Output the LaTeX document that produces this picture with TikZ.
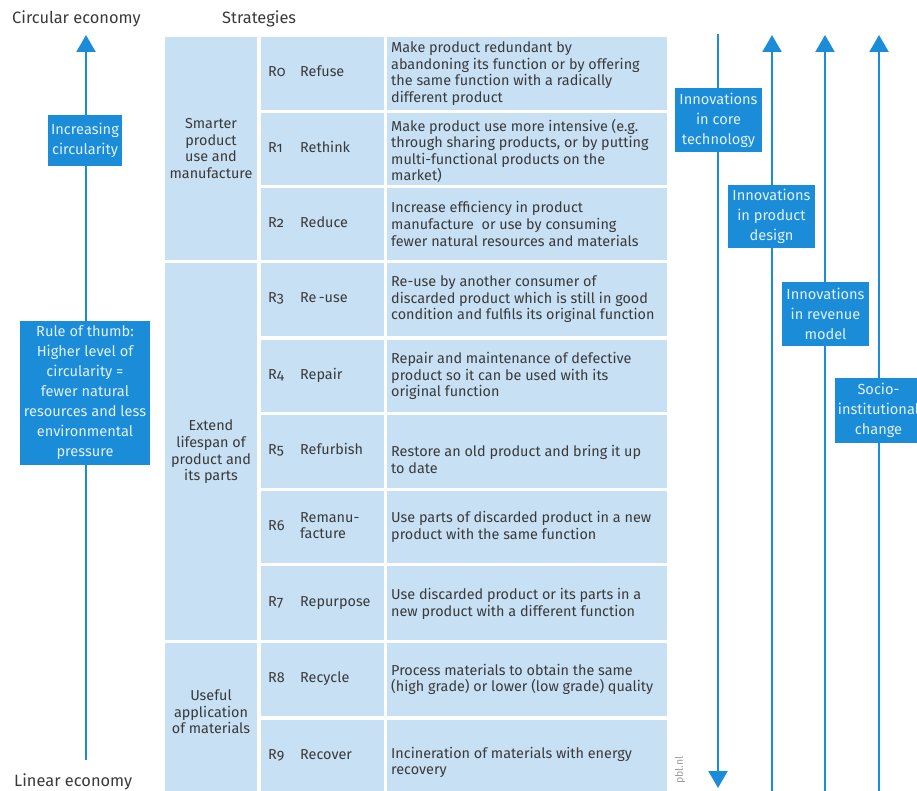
\documentclass[tikz,border=0pt]{standalone}
\usepackage{fontspec}
\setmainfont{Fira Sans}
\newfontfamily\codefont{Fira Sans}[Numbers=OldStyle]
\usetikzlibrary{arrows.meta}
\definecolor{cellblue}{HTML}{C7E0F4}
\definecolor{accent}{HTML}{1A8CD8}
\definecolor{boxtext}{HTML}{E2F1FC}
\definecolor{ink}{HTML}{3A3A3A}
\definecolor{credit}{HTML}{9A9A9A}

\begin{document}
\begin{tikzpicture}[x=1pt,y=-1pt,
  cell/.style={fill=cellblue, draw=none, anchor=north west, inner sep=0pt},
  body/.style={font=\fontsize{14.4}{16.6}\selectfont, text=ink, inner sep=0pt},
  head/.style={font=\fontsize{16.4}{18}\selectfont, text=ink, inner sep=0pt, anchor=base west},
  tag/.style={fill=accent, text=boxtext, align=center, inner sep=0pt,
              font=\fontsize{14.6}{20}\selectfont},
  flow/.style={draw=accent, line width=2.2pt},
  tip/.style={-{Triangle[width=19pt,length=17pt]}}
]
\useasboundingbox (0,0) rectangle (917,791);

% headings
\node[head] (hcirc) at (12,24) {Circular economy};
\node[head] (hstrat) at (222,24) {Strategies};
\node[head] (hlin) at (14,786) {Linear economy};

% group column
\node[cell, minimum width=92pt, minimum height=223pt] (g1) at (165,37) {};
\node[cell, minimum width=92pt, minimum height=377pt] (g2) at (165,263) {};
\node[cell, minimum width=92pt, minimum height=150pt] (g3) at (165,643) {};
\node[body, align=center] (g1t) at (211,148.5) {Smarter\\product\\use and\\manufacture};
\node[body, align=center] (g2t) at (211,452) {Extend\\lifespan of\\product and\\its parts};
\node[body, align=center] (g3t) at (211,712) {Useful\\application\\of materials};

% strategy rows: index / top / bottom / code / name / description / text shift
\foreach \i/\t/\b/\c/\n/\d/\s in {
  0/37/110/R0/Refuse/{Make product redundant by\\abandoning its function or by offering\\the same function with a radically\\different product}/0,
  1/113/185/R1/Rethink/{Make product use more intensive (e.g.\\through sharing products, or by putting\\multi-functional products on the\\market)}/2,
  2/188/260/R2/Reduce/{Increase efficiency in product\\manufacture\ \ or use by consuming\\fewer natural resources and materials}/0,
  3/263/336/R3/Re\,-use/{Re-use by another consumer of\\discarded product which is still in good\\condition and fulfils its original function}/0,
  4/340/412/R4/Repair/{Repair and maintenance of defective\\product so it can be used with its\\original function}/0,
  5/415/488/R5/Refurbish/{Restore an old product and bring it up\\to date}/8,
  6/491/563/R6/{\strut Remanu-\\\strut facture}/{Use parts of discarded product in a new\\product with the same function}/0,
  7/566/640/R7/Repurpose/{Use discarded product or its parts in a\\new product with a different function}/1,
  8/643/716/R8/Recycle/{Process materials to obtain the same\\(high grade) or lower (low grade) quality}/0,
  9/720/793/R9/Recover/{Incineration of materials with energy\\recovery}/6}
{
  \pgfmathsetmacro\h{\b-\t}
  \pgfmathsetmacro\m{(\t+\b)/2}
  \node[cell, minimum width=123pt, minimum height=\h pt] (code\i) at (261,\t) {};
  \node[cell, minimum width=280pt, minimum height=\h pt] (desc\i) at (387,\t) {};
  \node[body, anchor=west] (rc\i) at (268,\m) {\codefont\strut\c};
  \node[body, anchor=west, align=left] (rn\i) at (300,\m) {\strut\n};
  \node[body, anchor=west, align=left] (rd\i) at (391,\m+\s) {\d};
}

% credit
\node[font=\fontsize{10.5}{12}\selectfont, text=credit, rotate=90, inner sep=0pt] (pbl) at (680,770) {pbl.nl};

% left axis: linear to circular
\coordinate (lbot) at (86,760);
\coordinate (ltop) at (86,35);
\draw[flow, tip] (lbot) -- (ltop);
\node[tag, minimum width=74pt, minimum height=51pt] (incr) at (85,140.5) {Increasing\\circularity};
\node[tag, minimum width=130pt, minimum height=144pt] (rule) at (85,393)
  {Rule of thumb:\\Higher level of\\circularity =\\fewer natural\\resources and less\\environmental\\pressure};

% transition axes
\coordinate (a1t) at (718,34);   \coordinate (a1b) at (718,788);
\coordinate (a2b) at (772,795);  \coordinate (a2t) at (772,35);
\coordinate (a3b) at (825,795);  \coordinate (a3t) at (825,35);
\coordinate (a4b) at (879,795);  \coordinate (a4t) at (879,35);
\draw[flow, tip] (a1t) -- (a1b);
\draw[flow, tip] (a2b) -- (a2t);
\draw[flow, tip] (a3b) -- (a3t);
\draw[flow, tip] (a4b) -- (a4t);

\node[tag, minimum width=87pt, minimum height=64pt] (core) at (718.5,120) {Innovations\\in core\\technology};
\node[tag, minimum width=87pt, minimum height=63pt] (design) at (771.5,216.5) {Innovations\\in product\\design};
\node[tag, minimum width=87pt, minimum height=64pt] (revenue) at (825.5,314) {Innovations\\in revenue\\model};
\node[tag, minimum width=87pt, minimum height=65pt] (socio) at (878.5,410.5) {Socio-\\institutional\\change};
\end{tikzpicture}
\end{document}
